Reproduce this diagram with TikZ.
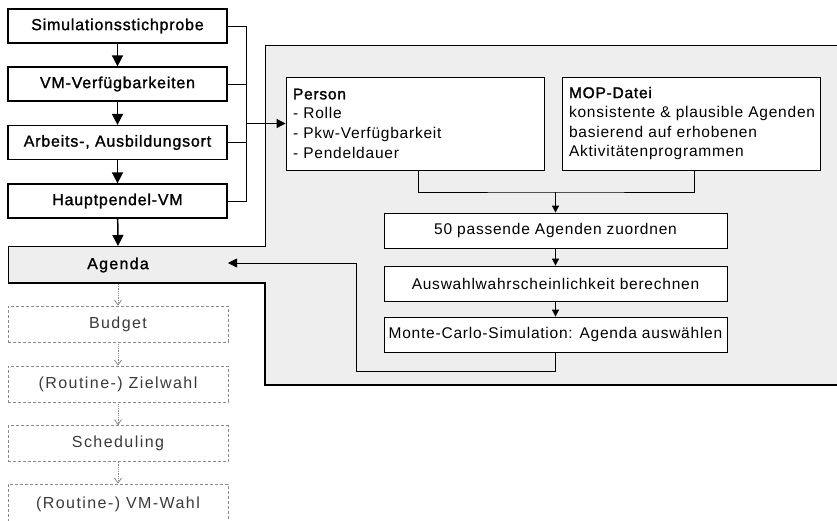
\documentclass[tikz,border=0pt]{standalone}
\usepackage{fontspec}
\setmainfont{Liberation Sans}
\newfontfamily\spaced[LetterSpace=5]{Liberation Sans}
\newfontfamily\heavy[LetterSpace=5,FakeBold=1.3]{Liberation Sans}
\usetikzlibrary{arrows.meta}
\definecolor{panel}{HTML}{EEEEEE}
\definecolor{faint}{HTML}{8A8A8A}
\definecolor{softtext}{HTML}{3A3A3A}
\begin{document}
\begin{tikzpicture}[x=1pt,y=-1pt,
  solidtip/.style={-{Triangle[length=11pt,width=11pt]}},
  sidetip/.style={-{Triangle[length=9pt,width=9pt]}},
  thintip/.style={-{Triangle[length=7pt,width=7pt]}},
  mainbox/.style={draw, line width=1.2pt, fill=white, minimum width=219pt,
    minimum height=34pt, inner sep=0pt, font=\fontsize{16}{18}\heavy},
  stepbox/.style={draw, line width=0.8pt, fill=white, minimum width=343pt,
    minimum height=35pt, inner sep=0pt, font=\fontsize{15.5}{18}\spaced},
  infobox/.style={draw, line width=0.8pt, fill=white, minimum width=258pt,
    minimum height=93pt, inner xsep=7pt, text width=244pt, align=left,
    font=\fontsize{15.5}{19.6}\spaced},
  lowbox/.style={draw=faint, densely dashed, line width=0.6pt, fill=white,
    minimum width=220pt, minimum height=36pt, inner sep=0pt, text=softtext,
    font=\fontsize{16}{18}\addfontfeature{LetterSpace=9}},
  lowtip/.style={draw=faint, densely dotted, line width=0.8pt,
    -{Straight Barb[length=5pt,width=7pt]}},
  link/.style={line width=0.8pt}]
\useasboundingbox (0,0) rectangle (837,520);

% shaded panel with the agenda strip
\fill[panel] (265,45) -- (840,45) -- (840,385) -- (265,385) -- (265,284)
  -- (8,284) -- (8,246) -- (265,246) -- cycle;
\draw[line width=0.6pt] (840,45) -- (265,45) -- (265,246) -- (8,246) -- (8,284);
\draw[line width=1.6pt] (8,283) -- (265,283) -- (265,385) -- (840,385);

% left column
\node[mainbox] (s1) at (117.5,26) {Simulationsstichprobe};
\node[mainbox] (s2) at (117.5,84) {VM-Verfügbarkeiten};
\node[mainbox] (s3) at (117.5,142.5) {Arbeits-, Ausbildungsort};
\node[mainbox] (s4) at (117.5,201) {Hauptpendel-VM};
\node[font=\fontsize{16}{18}\heavy\addfontfeature{LetterSpace=8}] (agenda) at (118,265) {Agenda};
\coordinate (agtop) at (118,246);
\coordinate (agbot) at (118,284);

\draw[line width=1.5pt, solidtip] (s1) -- (s2);
\draw[line width=1.5pt, solidtip] (s2) -- (s3);
\draw[line width=1.5pt, solidtip] (s3) -- (s4);
\draw[line width=1.5pt, solidtip] (s4) -- (agtop);

% collected inputs
\coordinate (bt) at (246,26);
\coordinate (bb) at (246,201);
\node[infobox] (person) at (415,123.5)
  {{\addfontfeature{FakeBold=1.6}Person}\\- Rolle\\- Pkw-Verfügbarkeit\\- Pendeldauer};
\node[infobox] (mop) at (691,123.5)
  {{\addfontfeature{FakeBold=1.6}MOP-Datei}\\konsistente \& plausible Agenden\\basierend auf erhobenen\\Aktivitätenprogrammen};
\draw[link] (s1.east) -| (bb) -- (s4.east);
\draw[link] (s2.east) -- (s2.east -| bt);
\draw[link] (s3.east) -- (s3.east -| bt);
\draw[link, sidetip] (bt |- person.west) -- (person.west);

% agenda assignment steps
\node[stepbox] (match) at (555.5,230.5) {50 passende Agenden zuordnen};
\node[stepbox] (prob) at (555.5,283.5) {Auswahlwahrscheinlichkeit berechnen};
\node[stepbox] (mc) at (555.5,334.5) {Monte-Carlo-Simulation: Agenda auswählen};
\coordinate (merge) at (555.5,192);
\draw[link] (person.south -| 418,0) |- (merge) -| (mop.south -| 694,0);
\draw[link, thintip] (merge) -- (match.north);
\draw[link, thintip] (match) -- (prob);
\draw[link, thintip] (prob) -- (mc);
\coordinate (agin) at (228,263);
\draw[link, sidetip] (mc.south) -- (555.5,371) -- (356,371) -- (356,263) -- (agin);

% downstream steps
\node[lowbox] (budget) at (118,324) {Budget};
\node[lowbox] (ziel) at (118,384) {(Routine-) Zielwahl};
\node[lowbox] (sched) at (118,443.5) {Scheduling};
\node[lowbox, minimum height=40pt] (vmw) at (118,504) {(Routine-) VM-Wahl};
\draw[lowtip] (agbot) -- (budget.north);
\draw[lowtip] (budget) -- (ziel);
\draw[lowtip] (ziel) -- (sched);
\draw[lowtip] (sched) -- (vmw.north);
\end{tikzpicture}
\end{document}
